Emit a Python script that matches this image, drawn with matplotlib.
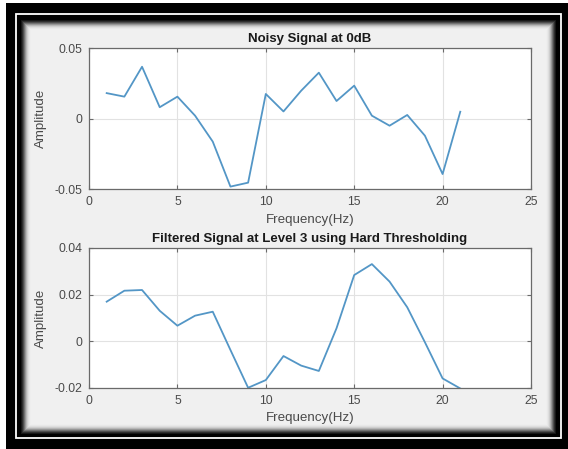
import matplotlib
matplotlib.use("Agg")
import matplotlib.pyplot as plt
from matplotlib.patches import Rectangle
import numpy as np

plt.rcParams['font.family'] = ['Liberation Sans', 'DejaVu Sans']

freq = list(range(1, 22))
noisy = [0.018, 0.0155, 0.0367, 0.008, 0.0155, 0.002, -0.0164, -0.0483, -0.0455, 0.0174,
         0.005, 0.0197, 0.0325, 0.0124, 0.0233, 0.002, -0.0051, 0.0025, -0.0122, -0.0394, 0.0048]
filtered = [0.017, 0.0217, 0.022, 0.0131, 0.0067, 0.011, 0.0127, -0.0037, -0.0199, -0.0166,
            -0.0063, -0.0104, -0.0127, 0.0056, 0.0284, 0.0331, 0.0256, 0.0146, -0.0004, -0.0159, -0.0202]

titles = ["Noisy Signal at 0dB", "Filtered Signal at Level 3 using Hard Thresholding"]
xlabel = "Frequency(Hz)"
ylabel = "Amplitude"
xticks = [0, 5, 10, 15, 20, 25]
yticks_top = [-0.05, 0, 0.05]
ytick_labels_top = ["-0.05", "0", "0.05"]
yticks_bot = [-0.02, 0, 0.02, 0.04]
ytick_labels_bot = ["-0.02", "0", "0.02", "0.04"]

W, H = 568, 449
fig = plt.figure(figsize=(W / 100, H / 100), dpi=100)
fig.patch.set_facecolor('white')

# background axes for the decorative frame (pixel coordinates, y downward)
bg = fig.add_axes([0, 0, 1, 1], zorder=-10)
bg.set_xlim(0, W)
bg.set_ylim(H, 0)
bg.axis('off')

def prect(x0, y0, x1, y1, **kw):
    bg.add_patch(Rectangle((x0, y0), x1 - x0, y1 - y0, **kw))

prect(6, 3, 568, 449, facecolor='black', edgecolor='none')
prect(16, 14, 561, 438, facecolor='none', edgecolor='white', linewidth=1.3)
shades = ['#161616', '#2e2e2e', '#4e4e4e', '#727272', '#969696', '#b6b6b6',
          '#cecece', '#dedede', '#e8e8e8', '#eeeeee', '#f0f0f0']
for i, c in enumerate(shades):
    prect(21 + i, 20 + i, 556 - i, 434 - i, facecolor=c, edgecolor='none')

line_color = '#5396c6'
axis_color = '#6a6a6a'
text_color = '#4a4a4a'

def style(ax, title, yticks, ylabels, ylim):
    ax.set_facecolor('white')
    ax.set_xlim(0, 25)
    ax.set_ylim(*ylim)
    ax.set_xticks(xticks)
    ax.set_xticklabels([str(t) for t in xticks])
    ax.set_yticks(yticks)
    ax.set_yticklabels(ylabels)
    ax.grid(True, color='#e2e2e2', linewidth=0.8)
    ax.set_axisbelow(True)
    for s in ax.spines.values():
        s.set_color(axis_color)
        s.set_linewidth(0.9)
    ax.tick_params(direction='in', length=3, width=0.8, colors=axis_color,
                   labelcolor=text_color, labelsize=8.8, top=True, right=True, pad=5)
    ax.set_title(title, fontsize=9.5, fontweight='bold', color='#1a1a1a', pad=4)
    ax.set_xlabel(xlabel, fontsize=9.6, color=text_color, labelpad=4)
    ax.set_ylabel(ylabel, fontsize=9.6, color=text_color)
    ax.yaxis.set_label_coords(-0.095, 0.5)

ax1 = fig.add_axes([89 / W, 1 - 189 / H, 442 / W, 141 / H])
ax1.plot(freq, noisy, color=line_color, linewidth=1.3)
style(ax1, titles[0], yticks_top, ytick_labels_top, (-0.05, 0.05))

ax2 = fig.add_axes([89 / W, 1 - 388 / H, 442 / W, 140 / H])
ax2.plot(freq, filtered, color=line_color, linewidth=1.3)
style(ax2, titles[1], yticks_bot, ytick_labels_bot, (-0.02, 0.04))

fig.savefig('out.png', dpi=100, facecolor=fig.get_facecolor())
